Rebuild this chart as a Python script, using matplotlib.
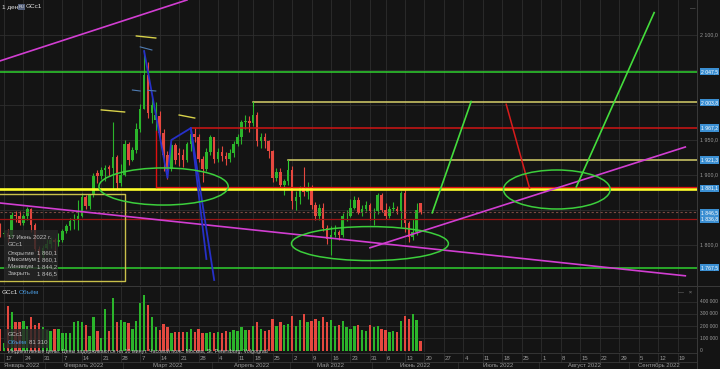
import matplotlib
matplotlib.use("Agg")
import matplotlib.pyplot as plt
import matplotlib.transforms as mtransforms
from matplotlib.patches import Ellipse, Rectangle
import numpy as np
import pandas as pd

# ---------------------------------------------------------------- data
# trading days shown (Good Friday and Memorial Day are skipped)
skipped = ["2022-04-15", "2022-05-30"]
hist_days = pd.bdate_range("2022-01-14", "2022-06-17").drop(pd.to_datetime(skipped))
future_days = pd.bdate_range("2022-06-20", "2022-09-30")
days = hist_days.append(future_days)

# GCc1 daily candles, Jan 14 .. Jun 17 2022
opens = [
    1825, 1816, 1817, 1812, 1843, 1842, 1832, 1841, 1852, 1829, 1795, 1786,
    1796, 1801, 1807, 1804, 1807, 1820, 1827, 1834, 1836, 1842, 1869, 1856, 1871, 1903,
    1898, 1907, 1912, 1910, 1926, 1889,
    1900, 1944, 1922, 1936, 1966, 1995, 2043, 1988, 1978, 1985, 1960, 1929, 1909, 1943,
    1932, 1929, 1921, 1944, 1958, 1954, 1923, 1909, 1933,
    1954, 1923, 1933, 1927, 1923, 1932, 1945, 1954, 1976, 1977, 1974, 1986, 1949, 1954,
    1948, 1934, 1896, 1904, 1886, 1891,
    1907, 1863, 1869, 1882, 1876, 1882, 1857, 1841, 1853, 1824, 1808, 1814, 1818, 1815,
    1841, 1842, 1853, 1865, 1846, 1851, 1857,
    1848, 1848, 1871, 1850, 1841, 1852, 1852, 1848, 1875, 1831, 1812, 1818, 1860.1,
]
highs = [
    1831, 1822, 1823, 1847, 1848, 1848, 1845, 1854, 1853, 1832, 1798, 1800,
    1808, 1811, 1810, 1817, 1823, 1830, 1838, 1845, 1865, 1875, 1872, 1873, 1903, 1907,
    1911, 1914, 1915, 1976, 1929, 1916,
    1950, 1947, 1940, 1974, 2002, 2078, 2061, 2011, 2005, 1991, 1966, 1934, 1946, 1946,
    1938, 1937, 1947, 1965, 1967, 1958, 1927, 1939, 1957,
    1955, 1938, 1942, 1933, 1937, 1949, 1958, 1979, 1986, 1985, 1998, 1990, 1960, 1960,
    1950, 1936, 1910, 1910, 1895, 1909,
    1913, 1877, 1884, 1911, 1890, 1886, 1862, 1859, 1860, 1828, 1827, 1828, 1822, 1846,
    1850, 1866, 1870, 1868, 1857, 1863, 1860,
    1853, 1874, 1874, 1860, 1856, 1861, 1856, 1877, 1878, 1834, 1837, 1860, 1860.1,
]
lows = [
    1812, 1812, 1805, 1810, 1833, 1828, 1829, 1836, 1818, 1791, 1780, 1781,
    1794, 1796, 1788, 1799, 1805, 1817, 1822, 1823, 1822, 1840, 1851, 1851, 1869, 1889,
    1895, 1891, 1899, 1878, 1878, 1885,
    1898, 1914, 1920, 1931, 1962, 1994, 1981, 1975, 1961, 1948, 1906, 1895, 1906, 1916,
    1913, 1911, 1918, 1935, 1947, 1918, 1890, 1906, 1929,
    1917, 1919, 1920, 1915, 1919, 1926, 1941, 1944, 1966, 1962, 1970, 1942, 1938, 1939,
    1925, 1890, 1891, 1881, 1872, 1886,
    1852, 1850, 1858, 1870, 1866, 1851, 1836, 1836, 1820, 1802, 1786, 1811, 1807, 1811,
    1835, 1840, 1851, 1844, 1842, 1848, 1836,
    1828, 1844, 1847, 1837, 1838, 1848, 1844, 1826, 1819, 1805, 1807, 1815, 1844.2,
]
closes = [
    1816, 1817, 1812, 1843, 1842, 1832, 1841, 1852, 1829, 1795, 1786, 1796,
    1801, 1807, 1804, 1807, 1820, 1827, 1834, 1836, 1842, 1869, 1856, 1871, 1899, 1898,
    1907, 1910, 1908, 1926, 1889, 1900,
    1944, 1922, 1936, 1966, 1995, 2043, 1988, 2000, 1986, 1960, 1929, 1909, 1943, 1921,
    1929, 1921, 1944, 1958, 1954, 1923, 1909, 1933, 1954,
    1923, 1933, 1927, 1923, 1932, 1945, 1954, 1976, 1977, 1974, 1986, 1949, 1954, 1948,
    1934, 1896, 1904, 1886, 1891, 1907,
    1863, 1869, 1882, 1876, 1882, 1857, 1841, 1853, 1824, 1808, 1814, 1818, 1815, 1841,
    1842, 1853, 1865, 1846, 1851, 1857, 1848,
    1849, 1871, 1850, 1841, 1852, 1853, 1848, 1875, 1831, 1812, 1818, 1850, 1846.5,
]
# volume, thousands of contracts
volumes_k = [
    174, 60, 363, 317, 231, 231, 241, 200, 271, 209, 223, 190,
    170, 160, 174, 179, 141, 141, 141, 231, 241, 231, 209, 122, 271, 158,
    101, 336, 158, 428, 231, 250,
    231, 223, 174, 241, 385, 450, 369, 271, 190, 168, 217, 190, 141, 152,
    152, 152, 152, 179, 152, 179, 141, 141, 152,
    141, 150, 140, 160, 150, 170, 160, 190, 170, 165, 200, 230, 180, 160,
    170, 260, 200, 230, 210, 220,
    280, 200, 250, 300, 230, 240, 260, 240, 270, 230, 250, 200, 210, 240,
    190, 180, 200, 210, 170, 160, 210,
    190, 200, 180, 170, 150, 160, 150, 240, 280, 260, 300, 250, 81.31,
]

# horizontal levels drawn on the chart
green_levels = [2047.5, 1767.5]
yellow_levels = [2003.8, 1921.3]
yellow_level_starts = ["2022-04-18", "2022-04-29"]
red_level = 1967.2
red_level_start = "2022-03-24"
main_level = 1881.1
main_red_start = "2022-03-11"
last_price = 1846.5
low_red_level = 1836.8
tag_prices = [2047.5, 2003.8, 1967.2, 1921.3, 1881.1, 1846.5, 1836.8, 1767.5]
axis_prices = [1800, 1850, 1900, 1950, 2000, 2050, 2100]
axis_volumes = [0, 100000, 200000, 300000, 400000]

# trend lines: (date, price) pairs
magenta_lines = [
    [("2022-01-14", 2063), ("2022-03-23", 2150)],
    [("2022-01-14", 1860), ("2022-09-21", 1756)],
    [("2022-05-31", 1796), ("2022-09-21", 1940)],
]
green_lines = [
    [("2022-06-22", 1846), ("2022-07-06", 2005)],
    [("2022-08-12", 1883), ("2022-09-09", 2132)],
]
red_forecast = [("2022-07-19", 2001), ("2022-07-27", 1881)]
blue_lines = [
    [("2022-03-08", 2077), ("2022-03-16", 1896), ("2022-03-17", 1950), ("2022-03-24", 1967),
     ("2022-03-30", 1780)],
    [("2022-03-24", 1967), ("2022-04-01", 1750)],
]
yellow_ticks = [
    [("2022-03-04", 2098.6), ("2022-03-11", 2095.7)],
    [("2022-02-21", 1993), ("2022-03-01", 1990)],
    [("2022-03-21", 1985.7), ("2022-03-25", 1981.4)],
]
steel_ticks = [
    [("2022-03-07", 2083), ("2022-03-10", 2078.6)],
    [("2022-03-03", 2021.4), ("2022-03-07", 2020)],
    [("2022-03-09", 2021), ("2022-03-11", 2020)],
]
yellow_box = [("2022-01-10", 1873), ("2022-03-01", 1873), ("2022-03-01", 1748.6), ("2022-01-10", 1748.6)]
# ellipses: centre date, centre price, width (trading days), height (price)
ellipses = [
    ("2022-03-15", 1883.6, 33.2, 53),
    ("2022-05-31", 1802, 40.3, 48.6),
    ("2022-08-05", 1879.3, 27.4, 55.7),
]
month_names = ["Январь", "Февраль", "Март", "Апрель", "Май", "Июнь",
               "Июль", "Август", "Сентябрь"]

# ---------------------------------------------------------------- style
BG = "#141414"
GRID = "#2e2e2e"
TXT = "#9a9a9a"
UP = "#2bb52b"
DOWN = "#e5483f"
TAG = "#3b8fd2"
W, H = 720, 369


def xi(d):
    """position of a date on the trading-day axis"""
    d = pd.Timestamp(d)
    if d < days[0]:
        return (d - days[0]).days * 5 / 7
    return days.get_loc(d)


def pts(seq):
    return [xi(d) for d, _ in seq], [p for _, p in seq]


def fbox(x0, y0, x1, y1):
    return [x0 / W, 1 - y1 / H, (x1 - x0) / W, (y1 - y0) / H]


def fy(py):
    return 1 - py / H


def fmt(v):
    return f"{v:,.1f}".replace(",", " ").replace(".", ",")


plt.rcParams["font.family"] = ["Liberation Sans", "DejaVu Sans"]
fig = plt.figure(figsize=(7.2, 3.69), dpi=100, facecolor=BG)

ax = fig.add_axes(fbox(0, 0, 697, 285))
axv = fig.add_axes(fbox(0, 287, 697, 352), sharex=ax)
for a in (ax, axv):
    a.set_facecolor(BG)
    for s in a.spines.values():
        s.set_visible(False)
    a.tick_params(length=0, labelbottom=False, labelleft=False)

xs = np.arange(len(opens))
ax.set_xlim(-0.01, 176.5)
ax.set_ylim(1742.86, 2150)
axv.set_ylim(-10600, 518000)

# week ticks (first trading day of each week)
week_pos = [i for i in range(1, len(days))
            if days[i].isocalendar().week != days[i - 1].isocalendar().week]
ax.set_xticks(week_pos)
ax.set_yticks(axis_prices)
axv.set_yticks(axis_volumes[1:])
for a in (ax, axv):
    a.grid(True, color=GRID, lw=0.6)
    a.set_axisbelow(True)

# candles
o, h, l, c = map(np.array, (opens, highs, lows, closes))
cols = np.where(c >= o, UP, DOWN)
ax.vlines(xs, l, h, colors=cols, lw=0.8, zorder=3)
ax.bar(xs, np.maximum(np.abs(c - o), 0.8), bottom=np.minimum(o, c), width=0.66,
       color=cols, lw=0, zorder=4)

# volume
axv.bar(xs, np.array(volumes_k) * 1000, width=0.6, color=cols, lw=0, zorder=3)

# levels
for p in green_levels:
    ax.axhline(p, color="#2fd12f", lw=1.1, zorder=5)
for p, d in zip(yellow_levels, yellow_level_starts):
    x0 = xi(d)
    ax.plot([x0, 200], [p, p], color="#d6cf6a", lw=1.1, zorder=5)
    ax.plot([x0, x0], [h[x0], p], color="#2fd12f", lw=0.8, zorder=5)
ax.plot([xi(red_level_start), 200], [red_level] * 2, color="#d01515", lw=1.1, zorder=5)
ax.axhline(main_level - 0.9, color="#ffff2a", lw=1.9, zorder=6)
ax.plot([xi(main_red_start), 200], [main_level + 1.3] * 2, color="#e01010", lw=0.9, zorder=6)
ax.plot([xi(main_red_start)] * 2, [main_level + 1.3, red_level - 4], color="#e01010",
        lw=1.0, zorder=6)
ax.axhline(last_price, color="#7a4a42", lw=0.8, ls=(0, (2, 2)), zorder=5)
ax.axhline(low_red_level, color="#9a1414", lw=0.9, zorder=5)

# drawings
for seq in magenta_lines:
    ax.plot(*pts(seq), color="#d23ed2", lw=1.2, zorder=7)
for seq in green_lines:
    ax.plot(*pts(seq), color="#44dd3c", lw=1.2, zorder=7)
ax.plot(*pts(red_forecast), color="#d81c1c", lw=1.1, zorder=7)
for seq in blue_lines:
    ax.plot(*pts(seq), color="#2630c8", lw=1.3, zorder=7)
for seq in yellow_ticks:
    ax.plot(*pts(seq), color="#d8d24a", lw=1.0, zorder=7)
for seq in steel_ticks:
    ax.plot(*pts(seq), color="#4f7cb3", lw=0.8, zorder=7)
ax.plot(*pts(yellow_box), color="#c9c04a", lw=1.0, zorder=5)
for d, p, wd, hp in ellipses:
    ax.add_patch(Ellipse((xi(d), p), wd, hp, fill=False, ec="#3ccf3c", lw=1.1, zorder=7))

# right price axis (labels hidden behind a tag are left out)
tr = mtransforms.blended_transform_factory(ax.transAxes, ax.transData)
for p in axis_prices:
    if min(abs(p - t) for t in tag_prices) < 5:
        continue
    ax.text(1.005, p, fmt(p), transform=tr, color=TXT, fontsize=3.8, va="center",
            ha="left", clip_on=False)
for p in tag_prices:
    ax.text(1.006, p, fmt(p), transform=tr, color="white", fontsize=3.7, va="center",
            ha="left", clip_on=False, zorder=10,
            bbox=dict(boxstyle="square,pad=0.22", fc=TAG, ec="none"))
trv = mtransforms.blended_transform_factory(axv.transAxes, axv.transData)
for v in axis_volumes:
    axv.text(1.004, v, f"{v:,}".replace(",", " "), transform=trv, color=TXT,
             fontsize=3.5, va="center", ha="left", clip_on=False)

# separators
fig.add_artist(plt.Line2D([697 / W] * 2, [0, 1], color="#3a3a3a", lw=0.7))
fig.add_artist(plt.Line2D([0, 1], [fy(286)] * 2, color="#3a3a3a", lw=0.7))
fig.add_artist(plt.Line2D([0, 697 / W], [fy(353)] * 2, color="#3a3a3a", lw=0.6))
fig.add_artist(plt.Line2D([0, 697 / W], [fy(362)] * 2, color="#3a3a3a", lw=0.6))

# date axis
trd = mtransforms.blended_transform_factory(axv.transData, fig.transFigure)
for i in week_pos:
    if i > 176:
        continue
    axv.plot([i, i], [fy(353), fy(362)], transform=trd, color=GRID, lw=0.6, clip_on=False)
    axv.text(i + 0.3, fy(358), str(days[i].day), transform=trd, color=TXT,
             fontsize=4.3, va="center", ha="left", clip_on=False)
for m, name in enumerate(month_names, start=1):
    idx = [i for i, d in enumerate(days) if d.month == m]
    lo, hi = max(idx[0], 0), min(idx[-1], 176.5)
    axv.text((lo + hi) / 2, fy(365.5), f"{name} 2022", transform=trd, color=TXT,
             fontsize=4.3, va="center", ha="center", clip_on=False)
    if m > 1:
        axv.plot([idx[0] - 0.5] * 2, [fy(362), fy(369)], transform=trd, color=GRID,
                 lw=0.6, clip_on=False)

# header
fig.text(2 / W, fy(7), "1 ден", color="#e0e0e0", fontsize=4.6, va="center")
fig.text(18.5 / W, fy(7), "RU", color="#e0e0e0", fontsize=3.0, va="center",
         bbox=dict(boxstyle="square,pad=0.2", fc="#55617c", ec="none"))
fig.text(26 / W, fy(7), "GCc1", color="#e0e0e0", fontsize=4.6, va="center")
fig.text(690 / W, fy(9), "—", color="#888888", fontsize=4, va="center")
fig.text(2 / W, fy(292), "GCc1", color="#e0e0e0", fontsize=4.6, va="center")
fig.text(19 / W, fy(292), "Объём", color="#4a9be0", fontsize=4.6, va="center")
fig.text(678 / W, fy(293), "—   ×", color="#888888", fontsize=4.2, va="center")

# info boxes
fig.add_artist(Rectangle((4 / W, fy(280)), 54 / W, 50 / H, transform=fig.transFigure,
                         fc="#262626", ec="none", alpha=0.82, zorder=20))
info = [("Открытие", "1 860,1"), ("Максимум", "1 860,1"),
        ("Минимум", "1 844,2"), ("Закрыть", "1 846,5")]
fig.text(8 / W, fy(237), "17 Июнь 2022 г.", color="#bdbdbd", fontsize=4.3, va="center", zorder=21)
fig.text(8 / W, fy(245), "GCc1", color="#bdbdbd", fontsize=4.3, va="center", zorder=21)
for k, (lab, val) in enumerate(info):
    fig.text(8 / W, fy(253 + 6.8 * k), lab, color="#bdbdbd", fontsize=4.3, va="center", zorder=21)
    fig.text(37 / W, fy(253 + 6.8 * k), val, color="#bdbdbd", fontsize=4.3, va="center", zorder=21)

fig.add_artist(Rectangle((4 / W, fy(348)), 45 / W, 19 / H, transform=fig.transFigure,
                         fc="#262626", ec="none", alpha=0.82, zorder=20))
fig.text(8 / W, fy(334), "GCc1", color="#bdbdbd", fontsize=4.3, va="center", zorder=21)
fig.text(8 / W, fy(343), "Объём", color="#4a9be0", fontsize=4.3, va="center", zorder=21)
fig.text(29 / W, fy(343), "81 310", color="#bdbdbd", fontsize=4.3, va="center", zorder=21)
fig.text(8 / W, fy(351), "Индикативные цены. Цены задерживаются на 10 минут. "
         "Часовой пояс: Москва, St. Petersburg, Volgograd", color="#c8c8c8",
         fontsize=3.8, va="center", zorder=21)

fig.savefig("out.png", dpi=100, facecolor=BG)
